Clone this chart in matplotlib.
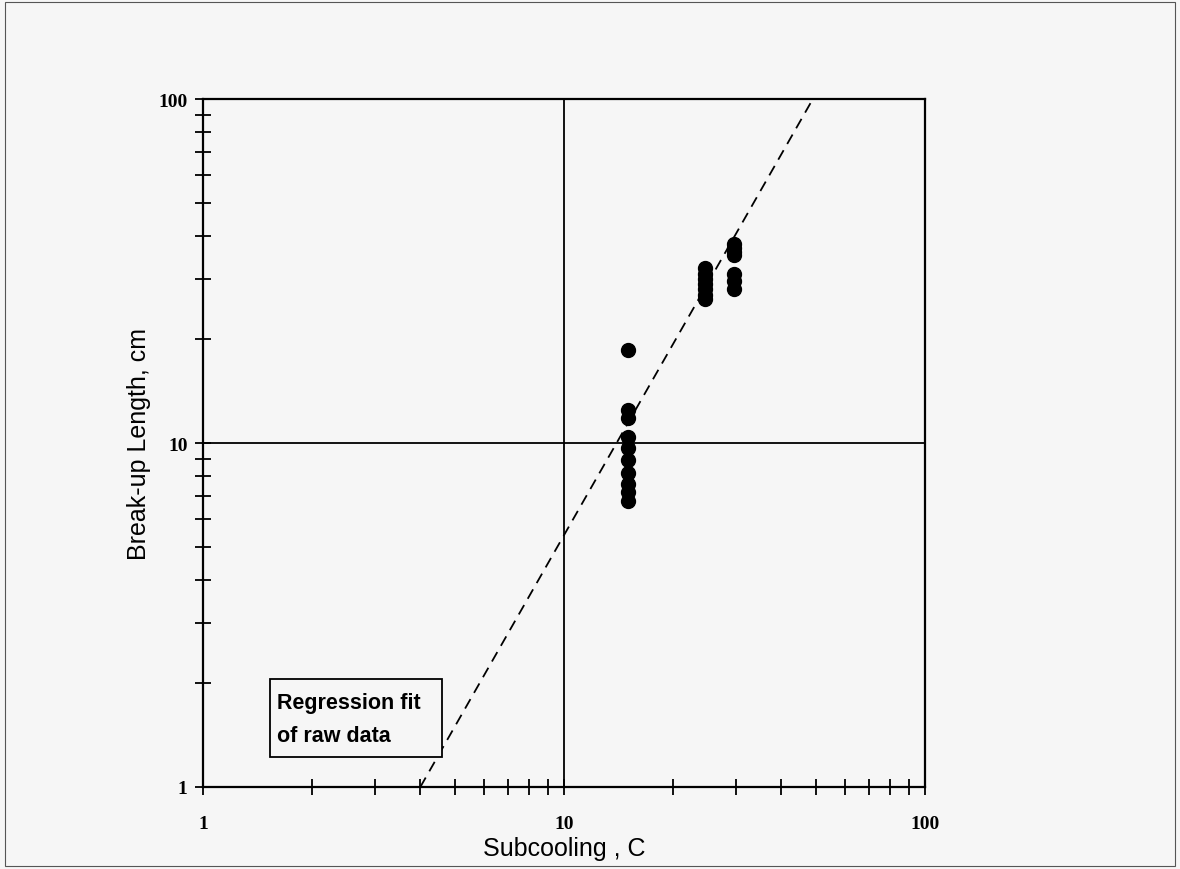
'''Break-up length vs subcooling, log-log plot
'''
import matplotlib
matplotlib.use("Agg")
import matplotlib.pyplot as plt
import matplotlib.ticker as mticker
from matplotlib.patches import Rectangle
import numpy as np

# raw data
subcool_15 = [15.0] * 10
length_15 = [18.6, 12.5, 11.8, 10.4, 9.7, 8.9, 8.2, 7.6, 7.2, 6.8]
subcool_24 = [24.5] * 7
length_24 = [32.3, 31.0, 30.0, 29.0, 28.0, 27.0, 26.3]
subcool_29 = [29.5] * 7
length_29 = [37.9, 37.0, 36.0, 35.2, 31.0, 29.6, 28.0]

# regression fit: L = (dT / x0) ** slope
fit_x0 = 4.0
fit_slope = 1.84

x_ticks = [1, 10, 100]
y_ticks = [1, 10, 100]
note_lines = ["Regression fit", "of raw data"]


def main():
    bg = "#f6f6f6"
    fig = plt.figure(figsize=(11.8, 8.7), dpi=100, facecolor=bg)
    fig.patches.append(Rectangle((0.004, 0.004), 0.992, 0.992, transform=fig.transFigure,
                                 fill=False, edgecolor="#555555", linewidth=0.8))
    ax = fig.add_axes([0.172, 0.0943, 0.612, 0.7907])
    ax.set_facecolor(bg)
    ax.set_xscale("log")
    ax.set_yscale("log")
    ax.set_xlim(1, 100)
    ax.set_ylim(1, 100)

    xs = subcool_15 + subcool_24 + subcool_29
    ys = length_15 + length_24 + length_29
    ax.plot(xs, ys, "o", color="black", markersize=10, zorder=3)

    xf = np.array([fit_x0, 100.0])
    yf = (xf / fit_x0) ** fit_slope
    ax.plot(xf, yf, color="black", linewidth=1.3, dashes=(6, 4), zorder=2)

    ax.xaxis.set_major_locator(mticker.FixedLocator(x_ticks))
    ax.yaxis.set_major_locator(mticker.FixedLocator(y_ticks))
    ax.xaxis.set_major_formatter(mticker.FixedFormatter([str(t) for t in x_ticks]))
    ax.yaxis.set_major_formatter(mticker.FixedFormatter([str(t) for t in y_ticks]))
    ax.xaxis.set_minor_locator(mticker.LogLocator(base=10, subs=range(2, 10)))
    ax.yaxis.set_minor_locator(mticker.LogLocator(base=10, subs=range(2, 10)))
    ax.xaxis.set_minor_formatter(mticker.NullFormatter())
    ax.yaxis.set_minor_formatter(mticker.NullFormatter())

    ax.tick_params(which="both", direction="inout", top=False, right=False,
                   color="black", width=1.3)
    ax.tick_params(which="major", length=12)
    ax.tick_params(which="minor", length=11)
    ax.tick_params(axis="x", which="major", pad=14)
    ax.tick_params(axis="y", which="major", pad=5)
    for lab in ax.get_xticklabels() + ax.get_yticklabels():
        lab.set_fontfamily("Liberation Serif")
        lab.set_fontweight("bold")
        lab.set_fontsize(14)

    ax.grid(True, which="major", color="black", linewidth=1.3)
    for sp in ax.spines.values():
        sp.set_linewidth(1.6)

    ax.set_xlabel("Subcooling , C", fontsize=18, family="Liberation Sans")
    ax.set_ylabel("Break-up Length, cm", fontsize=18, family="Liberation Sans")
    ax.xaxis.set_label_coords(0.5, -0.071)
    ax.yaxis.set_label_coords(-0.072, 0.5)

    # note box
    ax.add_patch(Rectangle((0.093, 0.0436), 0.238, 0.114, transform=ax.transAxes,
                           facecolor=bg, edgecolor="black", linewidth=1.3, zorder=4))
    for txt, yb in zip(note_lines, [0.1148, 0.0669]):
        ax.text(0.1025, yb, txt, transform=ax.transAxes, fontsize=15.5,
                fontweight="bold", family="Liberation Sans",
                ha="left", va="baseline", zorder=5)

    fig.savefig("out.png", dpi=100, facecolor=fig.get_facecolor())


if __name__ == '__main__':
    main()
